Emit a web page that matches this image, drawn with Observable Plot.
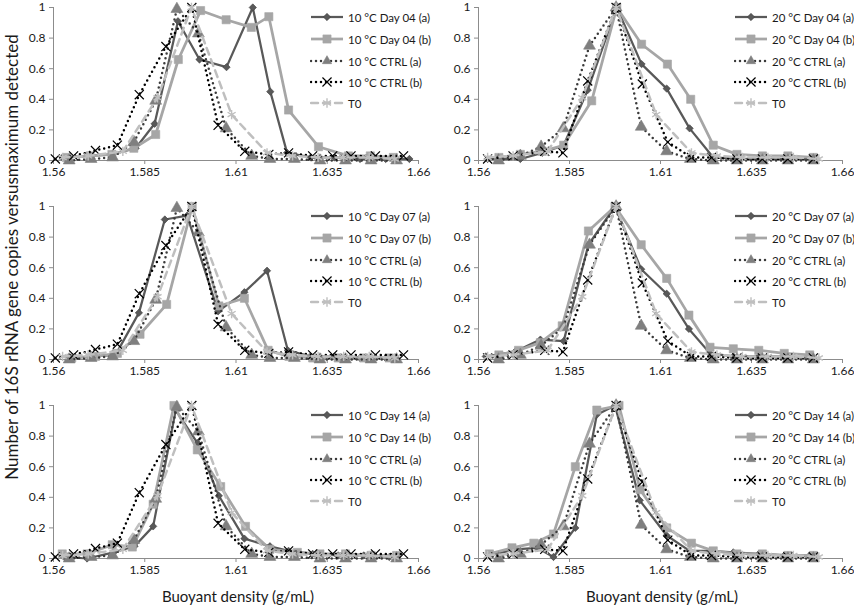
<!DOCTYPE html>
<html><head><meta charset="utf-8">
<script src="https://cdn.jsdelivr.net/npm/d3@7"></script>
<script src="https://cdn.jsdelivr.net/npm/@observablehq/plot@0.6"></script>
<style>
body{margin:0;background:#fff;font-family:Lato,"Liberation Sans",sans-serif;}
#wrap{position:relative;width:854px;height:609px;overflow:hidden;}
.panel{position:absolute;}
.lrow{position:absolute;height:16px;display:flex;align-items:center;font-size:11.5px;color:#1a1a1a;white-space:nowrap;}
.lrow svg{margin-right:4px;}
.xtitle{position:absolute;top:587px;width:300px;text-align:center;font-size:15px;color:#1a1a1a;}
.ytitle{position:absolute;left:11px;top:257px;transform:translate(-50%,-50%) rotate(-90deg);font-size:17px;white-space:nowrap;color:#1a1a1a;}
</style></head><body><div id="wrap"></div><script>
// ---- axes ----
const xTicks=[1.56,1.585,1.61,1.635,1.66];
const xTickLabels=["1.56","1.585","1.61","1.635","1.66"];
const yTicks=[0,0.2,0.4,0.6,0.8,1];
const yTickLabels=["0","0.2","0.4","0.6","0.8","1"];
const xTitle="Buoyant density (g/mL)";
const yTitle="Number of 16S rRNA gene copies versusmaximum detected";

// ---- shared series ----
const t0X=[1.5625,1.5695,1.5790,1.5885,1.5978,1.6088,1.6185,1.6255,1.6325,1.6395,1.6465,1.6535];
const t0Y=[0.02,0.03,0.06,0.41,1.00,0.30,0.05,0.03,0.02,0.02,0.02,0.01];
const ctrl10aX=[1.5643,1.5703,1.5762,1.5820,1.5880,1.5938,1.5997,1.6073,1.6143,1.6193,1.6260,1.6330,1.6400,1.6470,1.6540];
const ctrl10aY=[0.00,0.01,0.02,0.12,0.39,0.99,0.83,0.21,0.03,0.01,0.01,0.00,0.00,0.00,0.00];
const ctrl10bX=[1.5605,1.5655,1.5715,1.5775,1.5835,1.5908,1.5979,1.6051,1.6124,1.6190,1.6244,1.6310,1.6365,1.6415,1.6482,1.6559];
const ctrl10bY=[0.01,0.03,0.065,0.10,0.43,0.745,1.00,0.23,0.06,0.04,0.05,0.03,0.03,0.03,0.03,0.03];
const ctrl20aX=[1.5655,1.5715,1.5772,1.5833,1.5905,1.5978,1.6047,1.6117,1.6182,1.6245,1.6310,1.6380,1.6450,1.6520];
const ctrl20aY=[0.00,0.03,0.09,0.21,0.75,1.00,0.22,0.06,0.01,0.00,0.00,0.00,0.00,0.00];
const ctrl20bX=[1.5625,1.5695,1.5782,1.5832,1.5900,1.5978,1.6050,1.6120,1.6185,1.6240,1.6310,1.6380,1.6450,1.6520];
const ctrl20bY=[0.01,0.03,0.06,0.05,0.52,1.00,0.50,0.12,0.02,0.02,0.01,0.01,0.01,0.01];

// ---- treatment series ----
const d04t10aX=[1.5625,1.5695,1.5760,1.5825,1.5877,1.5941,1.6000,1.6074,1.6146,1.6194,1.6240,1.6305,1.6370,1.6440,1.6510,1.6575];
const d04t10aY=[0.02,0.03,0.04,0.08,0.24,0.91,0.66,0.61,1.00,0.45,0.05,0.02,0.02,0.01,0.01,0.01];
const d04t10bX=[1.5637,1.5700,1.5760,1.5820,1.5880,1.5942,1.6003,1.6073,1.6142,1.6190,1.6244,1.6326,1.6408,1.6468,1.6531];
const d04t10bY=[0.02,0.03,0.04,0.08,0.17,0.66,0.98,0.92,0.87,0.94,0.33,0.09,0.03,0.03,0.02];
const d04t20aX=[1.5625,1.5715,1.5775,1.5834,1.5900,1.5980,1.6048,1.6117,1.6180,1.6245,1.6310,1.6380,1.6450,1.6520];
const d04t20aY=[0.01,0.01,0.05,0.10,0.46,1.00,0.63,0.47,0.21,0.02,0.01,0.01,0.01,0.01];
const d04t20bX=[1.5656,1.5715,1.5775,1.5834,1.5911,1.5980,1.6048,1.6119,1.6183,1.6245,1.6310,1.6380,1.6450,1.6520];
const d04t20bY=[0.02,0.04,0.06,0.10,0.39,1.00,0.76,0.63,0.40,0.10,0.04,0.03,0.03,0.02];
const d07t10aX=[1.5645,1.5710,1.5770,1.5834,1.5905,1.5966,1.6051,1.6123,1.6185,1.6242,1.6304,1.6370,1.6440,1.6510];
const d07t10aY=[0.01,0.02,0.03,0.305,0.915,0.94,0.315,0.44,0.58,0.06,0.02,0.02,0.01,0.01];
const d07t10bX=[1.5650,1.5715,1.5775,1.5837,1.5910,1.5980,1.6053,1.6123,1.6188,1.6245,1.6310,1.6380,1.6450,1.6520];
const d07t10bY=[0.01,0.02,0.04,0.165,0.36,1.00,0.35,0.40,0.06,0.02,0.01,0.01,0.01,0.01];
const d07t20aX=[1.5620,1.5700,1.5770,1.5834,1.5902,1.5975,1.6047,1.6117,1.6178,1.6236,1.6300,1.6370,1.6440,1.6510];
const d07t20aY=[0.02,0.05,0.13,0.12,0.75,1.00,0.59,0.43,0.20,0.04,0.02,0.02,0.02,0.01];
const d07t20bX=[1.5656,1.5710,1.5770,1.5830,1.5902,1.5975,1.6047,1.6117,1.6178,1.6236,1.6300,1.6370,1.6440,1.6510];
const d07t20bY=[0.03,0.06,0.11,0.22,0.84,1.00,0.75,0.53,0.29,0.08,0.07,0.06,0.04,0.03];
const d14t10aX=[1.5630,1.5692,1.5765,1.5822,1.5873,1.5935,1.5994,1.6053,1.6123,1.6193,1.6244,1.6310,1.6380,1.6450,1.6520];
const d14t10aY=[0.01,0.00,0.04,0.08,0.21,0.97,0.755,0.41,0.13,0.08,0.05,0.03,0.02,0.02,0.01];
const d14t10bX=[1.5624,1.5692,1.5761,1.5816,1.5873,1.5930,1.5994,1.6058,1.6126,1.6193,1.6268,1.6330,1.6400,1.6470,1.6540];
const d14t10bY=[0.03,0.03,0.09,0.075,0.355,1.00,0.71,0.47,0.21,0.06,0.04,0.03,0.03,0.02,0.02];
const d14t20aX=[1.5630,1.5701,1.5761,1.5806,1.5866,1.5925,1.5975,1.6043,1.6117,1.6180,1.6236,1.6300,1.6370,1.6440,1.6510];
const d14t20aY=[0.02,0.06,0.07,0.01,0.20,0.94,1.00,0.38,0.15,0.05,0.05,0.04,0.03,0.02,0.02];
const d14t20bX=[1.5630,1.5692,1.5752,1.5806,1.5866,1.5925,1.5986,1.6044,1.6117,1.6185,1.6245,1.6310,1.6380,1.6450,1.6520];
const d14t20bY=[0.03,0.07,0.10,0.16,0.60,0.97,1.00,0.45,0.20,0.10,0.05,0.03,0.03,0.02,0.02];

// ---- panel definitions ----
const panelTemps=["10","20"];
const panelDays=["04","07","14"];
const treat={
  "10-04":[[d04t10aX,d04t10aY],[d04t10bX,d04t10bY]],
  "20-04":[[d04t20aX,d04t20aY],[d04t20bX,d04t20bY]],
  "10-07":[[d07t10aX,d07t10aY],[d07t10bX,d07t10bY]],
  "20-07":[[d07t20aX,d07t20aY],[d07t20bX,d07t20bY]],
  "10-14":[[d14t10aX,d14t10aY],[d14t10bX,d14t10bY]],
  "20-14":[[d14t20aX,d14t20aY],[d14t20bX,d14t20bY]]
};
const ctrls={"10":[[ctrl10aX,ctrl10aY],[ctrl10bX,ctrl10bY]],"20":[[ctrl20aX,ctrl20aY],[ctrl20bX,ctrl20bY]]};

// styles for the five series, in drawing order
const styles=[
  {line:"#595959",w:2.25,dash:null,symbol:"diamond2",r:3.3,fill:"#595959",stroke:"#404040"},
  {line:"#a6a6a6",w:2.75,dash:null,symbol:"square",r:4.6,fill:"#a6a6a6",stroke:"#a6a6a6"},
  {line:"#3a3a3a",w:2.5,dash:"0 5",symbol:"triangle",r:4.4,fill:"#7f7f7f",stroke:"#7f7f7f"},
  {line:"#000000",w:2.5,dash:"0 5",symbol:"times",r:4.2,fill:"none",stroke:"#000000",sw:1.2},
  {line:"#bfbfbf",w:2.5,dash:"7 5",symbol:"asterisk",r:4.4,fill:"none",stroke:"#bfbfbf",sw:1.4}
];

const rows=(xs,ys)=>xs.map((x,i)=>({x,y:ys[i]}));
const wrap=document.getElementById("wrap");
const colLeft=[0,427], mLeft=[53,51], mRight=[9,12], rowH=199;
const symTypes={diamond2:d3.symbolDiamond2,square:d3.symbolSquare,triangle:d3.symbolTriangle2,times:d3.symbolTimes,asterisk:d3.symbolAsterisk};

panelDays.forEach((day,ri)=>{
  panelTemps.forEach((temp,ci)=>{
    const tr=treat[temp+"-"+day], ct=ctrls[temp];
    const seriesData=[tr[0],tr[1],ct[0],ct[1],[t0X,t0Y]].map(([xs,ys])=>rows(xs,ys));
    const labels=[`${temp} °C Day ${day} (a)`,`${temp} °C Day ${day} (b)`,`${temp} °C CTRL (a)`,`${temp} °C CTRL (b)`,"T0"];
    const marks=[
      Plot.ruleY([0],{stroke:"#8c8c8c",strokeWidth:1}),
      Plot.ruleX([1.56],{stroke:"#8c8c8c",strokeWidth:1}),
      Plot.axisX({ticks:xTicks,tickFormat:d=>xTickLabels[xTicks.indexOf(d)],tickSize:4,tickPadding:3,stroke:"#8c8c8c",fill:"#1a1a1a",label:null}),
      Plot.axisY({ticks:yTicks,tickFormat:d=>yTickLabels[yTicks.indexOf(d)],tickSize:4,tickPadding:4,stroke:"#8c8c8c",fill:"#1a1a1a",label:null})
    ];
    seriesData.forEach((data,k)=>{
      const s=styles[k];
      marks.push(Plot.line(data,{x:"x",y:"y",stroke:s.line,strokeWidth:s.w,strokeDasharray:s.dash||undefined,strokeLinecap:s.dash?"round":"butt",strokeLinejoin:"round"}));
      marks.push(Plot.dot(data,{x:"x",y:"y",symbol:s.symbol,r:s.r,fill:s.fill,stroke:s.stroke,strokeWidth:s.sw||0.6}));
    });
    const chart=Plot.plot({
      width:427,height:rowH,marginLeft:mLeft[ci],marginRight:mRight[ci],marginTop:7,marginBottom:39,
      x:{domain:[1.56,1.66]},y:{domain:[0,1]},
      style:{fontFamily:"Lato, 'Liberation Sans', sans-serif",fontSize:"12px",background:"transparent",overflow:"visible"},
      marks
    });
    chart.classList.add("panel");
    chart.style.left=colLeft[ci]+"px";
    chart.style.top=(ri*rowH)+"px";
    wrap.appendChild(chart);

    // legend (upper right of each panel)
    labels.forEach((lab,k)=>{
      const s=styles[k];
      const row=document.createElement("div");
      row.className="lrow";
      row.style.left=(colLeft[ci]+310-(ci?3:0))+"px";
      row.style.top=(ri*rowH+[17,39,61,82,103][k]-8)+"px";
      const path=d3.symbol(symTypes[s.symbol],Math.PI*s.r*s.r)();
      row.innerHTML=`<svg width="34" height="16"><line x1="1" x2="33" y1="8" y2="8" stroke="${s.line}" stroke-width="${s.w}" ${s.dash?`stroke-dasharray="${s.dash}" stroke-linecap="round"`:""}/><path transform="translate(17,8)" d="${path}" fill="${s.fill}" stroke="${s.stroke}" stroke-width="${s.sw||0.6}"/></svg><span>${lab}</span>`;
      wrap.appendChild(row);
    });
  });
});

// axis titles
[238,662].forEach(cx=>{
  const t=document.createElement("div");
  t.className="xtitle";t.textContent=xTitle;t.style.left=(cx-150)+"px";
  wrap.appendChild(t);
});
const yt=document.createElement("div");
yt.className="ytitle";yt.textContent=yTitle;
wrap.appendChild(yt);
</script></body></html>
